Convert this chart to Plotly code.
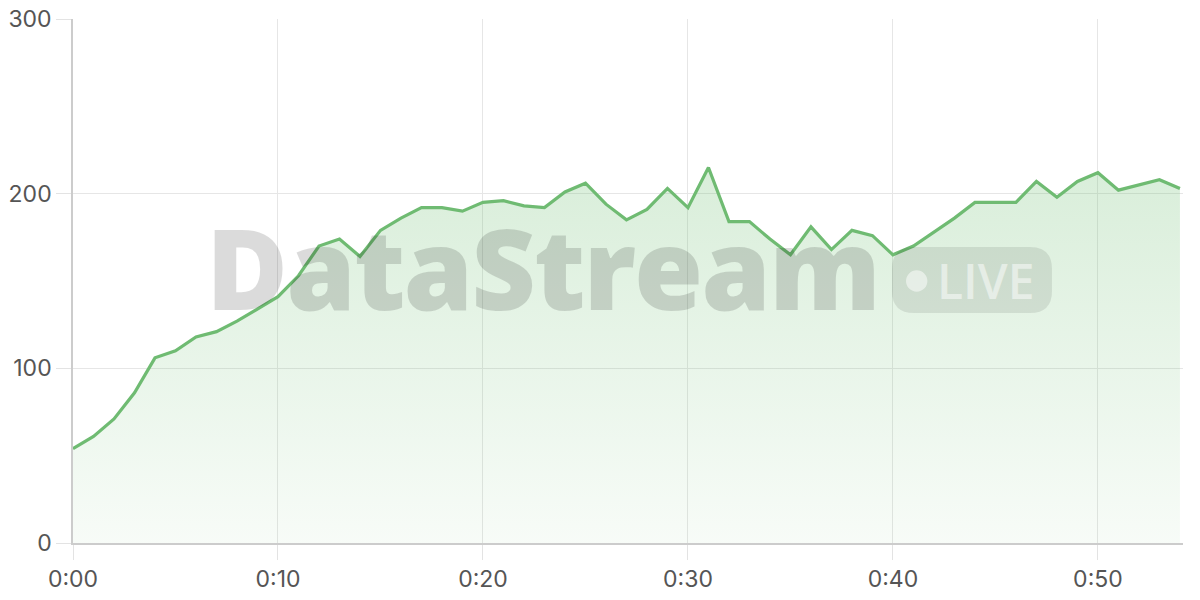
import plotly.graph_objects as go

# ---- data ----
minutes = list(range(55))
values = [54, 61, 71, 86, 106, 110, 118, 121, 127, 134,
          141, 153, 170, 174, 164, 179, 186, 192, 192, 190,
          195, 196, 193, 192, 201, 206, 194, 185, 191, 203,
          192, 215, 184, 184, 174, 165, 181, 168, 179, 176,
          165, 170, 178, 186, 195, 195, 195, 207, 198, 207,
          212, 202, 205, 208, 203]
tick_vals = [0, 10, 20, 30, 40, 50]
tick_text = ["0:00", "0:10", "0:20", "0:30", "0:40", "0:50"]
y_ticks = [0, 100, 200, 300]

# ---- layout geometry (screen pixels) ----
L, R, T, B = 73, 1183, 19, 543
W, H = R - L, B - T
FIG_W, FIG_H = 1200, 600


def px(x):
    return (x - L) / W


def py(y):
    return (B - y) / H


def rounded_rect(x0, y0, x1, y1, r):
    pts = [
        ("M", [(x0 + r, y0)]),
        ("L", [(x1 - r, y0)]),
        ("Q", [(x1, y0), (x1, y0 + r)]),
        ("L", [(x1, y1 - r)]),
        ("Q", [(x1, y1), (x1 - r, y1)]),
        ("L", [(x0 + r, y1)]),
        ("Q", [(x0, y1), (x0, y1 - r)]),
        ("L", [(x0, y0 + r)]),
        ("Q", [(x0, y0), (x0 + r, y0)]),
    ]
    s = ""
    for cmd, ps in pts:
        s += cmd + " " + " ".join(f"{px(a):.5f},{py(b):.5f}" for a, b in ps) + " "
    return s + "Z"


fig = go.Figure()
fig.add_trace(go.Scatter(
    x=minutes, y=values, mode="lines",
    line=dict(color="#6fbb72", width=3.2),
    fill="tozeroy",
    fillgradient=dict(
        type="vertical",
        colorscale=[[0, "rgba(102,187,106,0.05)"], [1, "rgba(102,187,106,0.25)"]],
        start=0, stop=max(values),
    ),
    hoverinfo="skip",
    showlegend=False,
))

axis_font = dict(family="Inter, Liberation Sans, sans-serif", size=23, color="#555555")
common = dict(
    showgrid=True, gridcolor="#e6e6e6", gridwidth=1,
    showline=True, linecolor="#cccccc", linewidth=1.5,
    ticks="outside", ticklen=15, tickcolor="#e3e3e3", tickwidth=1,
    tickfont=axis_font, zeroline=False, fixedrange=True,
    automargin=False, ticklabeloverflow="allow",
)

fig.update_xaxes(range=[0, 54.15], tickmode="array", tickvals=tick_vals,
                 ticktext=tick_text, **common)
fig.update_yaxes(range=[0, 300], tickmode="array", tickvals=y_ticks, **common)

shapes = [
    dict(type="path", xref="paper", yref="paper",
         path=rounded_rect(892, 247, 1052, 313, 22),
         fillcolor="rgba(0,0,0,0.09)", line=dict(width=0), layer="above"),
    dict(type="circle", xref="paper", yref="paper",
         x0=px(906), x1=px(927.4), y0=py(291.7), y1=py(270.3),
         fillcolor="rgba(255,255,255,0.5)", line=dict(width=0), layer="above"),
]

annotations = [
    dict(text='<span style="letter-spacing:-2px">DataStream</span>',
         xref="paper", yref="paper",
         x=px(542), y=py(266), xanchor="center", yanchor="middle",
         showarrow=False,
         font=dict(family="Open Sans", size=112, weight=800, color="rgba(0,0,0,0.14)")),
    dict(text="LIVE", xref="paper", yref="paper",
         x=px(985.5), y=py(280), xanchor="center", yanchor="middle",
         showarrow=False,
         font=dict(family="Open Sans", size=48, weight=600, color="rgba(255,255,255,0.5)")),
]

fig.update_layout(
    width=FIG_W, height=FIG_H,
    margin=dict(l=L, r=FIG_W - R, t=T, b=FIG_H - B, pad=0, autoexpand=False),
    paper_bgcolor="white", plot_bgcolor="rgba(0,0,0,0)",
    shapes=shapes, annotations=annotations,
    showlegend=False,
)

fig.write_html("out.html", config={"displayModeBar": False},
               post_script="document.body.style.margin='0';")
